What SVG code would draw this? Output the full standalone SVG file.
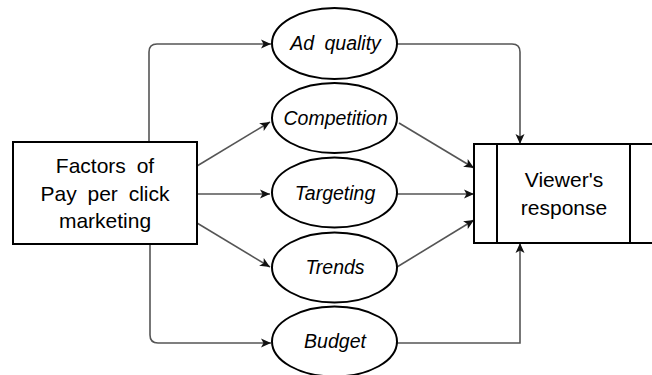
<svg xmlns="http://www.w3.org/2000/svg" width="652" height="375" viewBox="0 0 652 375">
<defs>
<style>
.box{fill:#fff;stroke:#000;stroke-width:2}
.ell{fill:#fff;stroke:#000;stroke-width:2}
.lbl{font-family:"Liberation Sans",Arial,sans-serif;font-size:21px;fill:#000;text-anchor:middle}
.it{font-family:"Liberation Sans",Arial,sans-serif;font-size:19.5px;font-style:italic;fill:#000;text-anchor:middle}
.con{fill:none;stroke:#555;stroke-width:1.6}
</style>
<marker id="arr" markerUnits="userSpaceOnUse" markerWidth="12" markerHeight="10" refX="10" refY="5" orient="auto">
<path d="M0,0.5 L10,5 L0,9.5 L2.5,5 z" fill="#111"/>
</marker>
</defs>
<rect width="652" height="375" fill="#fff"/>
<g id="connectors">
<path class="con" marker-end="url(#arr)" d="M149,142 V52 Q149,44 157,44 H271"/>
<path class="con" marker-end="url(#arr)" d="M197,166 L270,122"/>
<path class="con" marker-end="url(#arr)" d="M197,194 H270"/>
<path class="con" marker-end="url(#arr)" d="M197,223 L270,267"/>
<path class="con" marker-end="url(#arr)" d="M150,244 V335 Q150,343 158,343 H271"/>
<path class="con" marker-end="url(#arr)" d="M397,44 H512 Q520,44 520,52 V144"/>
<path class="con" marker-end="url(#arr)" d="M399,123 L474,168"/>
<path class="con" marker-end="url(#arr)" d="M397,194 H474"/>
<path class="con" marker-end="url(#arr)" d="M397,267 L474,220"/>
<path class="con" marker-end="url(#arr)" d="M397,343 H520 V243"/>
</g>
<g id="factors">
<rect class="box" x="13" y="142" width="184" height="102"/>
<text class="lbl" x="105" y="173" word-spacing="5">Factors of</text>
<text class="lbl" x="105" y="201" word-spacing="5">Pay per click</text>
<text class="lbl" x="105" y="228">marketing</text>
</g>
<g id="ad-quality">
<ellipse class="ell" cx="334.5" cy="43.5" rx="62.5" ry="35.5"/>
<text class="it" x="335.5" y="50" word-spacing="5">Ad quality</text>
</g>
<g id="competition">
<ellipse class="ell" cx="334.5" cy="118" rx="62.5" ry="35"/>
<text class="it" x="335.5" y="125">Competition</text>
</g>
<g id="targeting">
<ellipse class="ell" cx="334.5" cy="192.5" rx="62.5" ry="35"/>
<text class="it" x="335" y="199.5">Targeting</text>
</g>
<g id="trends">
<ellipse class="ell" cx="334.5" cy="267.5" rx="62.5" ry="35"/>
<text class="it" x="335" y="274">Trends</text>
</g>
<g id="budget">
<ellipse class="ell" cx="334.5" cy="341.5" rx="62.5" ry="35"/>
<text class="it" x="335" y="348">Budget</text>
</g>
<g id="viewers-response">
<rect class="box" x="474" y="144" width="182" height="99"/>
<line class="box" x1="497" y1="144" x2="497" y2="243"/>
<line class="box" x1="630" y1="144" x2="630" y2="243"/>
<text class="lbl" x="564" y="187">Viewer's</text>
<text class="lbl" x="564" y="215">response</text>
</g>
</svg>
